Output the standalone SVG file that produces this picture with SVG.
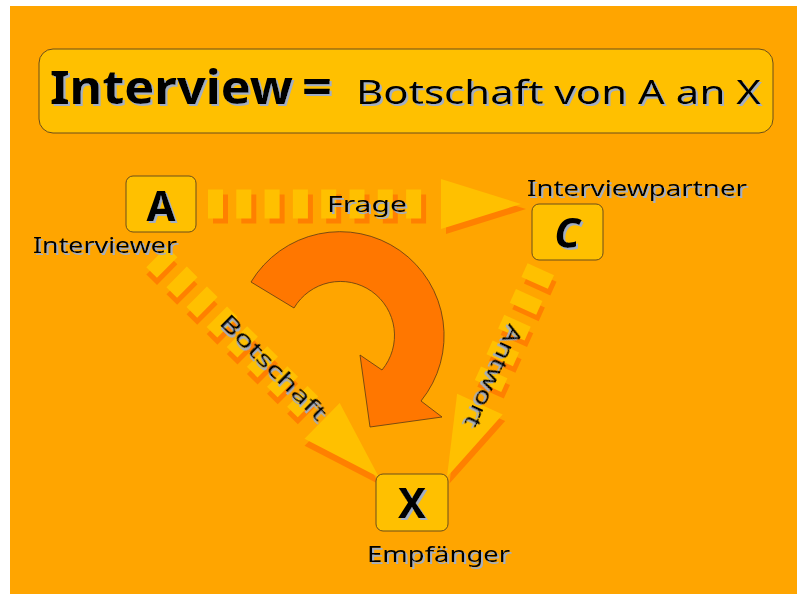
<svg xmlns="http://www.w3.org/2000/svg" xmlns:xlink="http://www.w3.org/1999/xlink" width="797" height="594" viewBox="0 0 797 594">
<style>
.box{fill:#FFC000;stroke:#6b4e1a;stroke-width:1}
.t{font-family:"Noto Sans","DejaVu Sans",sans-serif;fill:#000;filter:url(#ts)}
.lbl{font-size:22px}
.big{font-size:42px;font-weight:bold;text-anchor:middle}
.blk{fill:#FFC000}
.shd{fill:#FF8000}
</style>
<defs>
<filter id="ts" x="-10%" y="-10%" width="130%" height="130%">
<feDropShadow dx="2" dy="2" stdDeviation="0.4" flood-color="#a3aec2" flood-opacity="1"/>
</filter>
<g id="stripes8">
<rect x="0" y="-14.5" width="15" height="29"/>
<rect x="28.3" y="-14.5" width="15" height="29"/>
<rect x="56.6" y="-14.5" width="15" height="29"/>
<rect x="84.9" y="-14.5" width="15" height="29"/>
<rect x="113.2" y="-14.5" width="15" height="29"/>
<rect x="141.5" y="-14.5" width="15" height="29"/>
<rect x="169.8" y="-14.5" width="15" height="29"/>
<rect x="198.1" y="-14.5" width="15" height="29"/>
<polygon points="233,-25 313,0 233,25"/>
</g>
<g id="stripes5">
<rect x="0" y="-14.5" width="15" height="29"/>
<rect x="28.3" y="-14.5" width="15" height="29"/>
<rect x="56.6" y="-14.5" width="15" height="29"/>
<rect x="84.9" y="-14.5" width="15" height="29"/>
<rect x="113.2" y="-14.5" width="15" height="29"/>
<polygon points="148,-25 228,0 148,25"/>
</g>
</defs>
<rect x="0" y="0" width="797" height="594" fill="#ffffff"/>
<rect x="10" y="6" width="787" height="588" fill="#FFA500"/>

<g id="title">
<rect class="box" x="39" y="49" width="734" height="84" rx="14"/>
<text class="t" x="50" y="104" font-size="46" font-weight="bold" textLength="243" lengthAdjust="spacingAndGlyphs">Interview</text>
<text class="t" x="302" y="104" font-size="50" font-weight="bold" textLength="30" lengthAdjust="spacingAndGlyphs">=</text>
<text class="t" x="356" y="104" font-size="33" textLength="405" lengthAdjust="spacingAndGlyphs">Botschaft von A an X</text>
</g>

<g id="connectors">
<g id="arrow-frage" transform="translate(208,204)">
<use xlink:href="#stripes8" class="shd" transform="translate(5,5)"/>
<use xlink:href="#stripes8" class="blk"/>
</g>
<g id="arrow-botschaft" transform="translate(156.5,257) rotate(44.7)">
<use xlink:href="#stripes8" class="shd" transform="translate(5,5)"/>
<use xlink:href="#stripes8" class="blk"/>
</g>
<g id="arrow-antwort" transform="translate(540.8,269.2) rotate(114.3)">
<use xlink:href="#stripes5" class="shd" transform="translate(5,-5)"/>
<use xlink:href="#stripes5" class="blk"/>
</g>
<text class="t lbl" x="327" y="212" textLength="80" lengthAdjust="spacingAndGlyphs">Frage</text>
<text class="t lbl" transform="translate(273,368) rotate(44.7)" x="0" y="7" text-anchor="middle" textLength="140" lengthAdjust="spacingAndGlyphs">Botschaft</text>
<text class="t lbl" transform="translate(493,376) rotate(114.3)" x="0" y="7" text-anchor="middle" textLength="110" lengthAdjust="spacingAndGlyphs">Antwort</text>
</g>

<g id="cycle">
<path d="M251,282 A104,104 0 1 1 421,401 L442,417 L370,427 L360,355 L382,370 A54,54 0 1 0 294,308 Z" fill="#FF7700" stroke="#5a3a14" stroke-width="0.8"/>
</g>

<g id="node-A">
<rect class="box" x="126" y="176" width="70" height="56" rx="7"/>
<text class="t big" x="161" y="221">A</text>
<text class="t lbl" x="33" y="253" textLength="144" lengthAdjust="spacingAndGlyphs">Interviewer</text>
</g>

<g id="node-C">
<rect class="box" x="532" y="204" width="71" height="56" rx="7"/>
<text class="t big" x="567" y="248" font-style="italic">C</text>
<text class="t lbl" x="527" y="196" textLength="220" lengthAdjust="spacingAndGlyphs">Interviewpartner</text>
</g>

<g id="node-X">
<rect class="box" x="376" y="474" width="72" height="57" rx="7"/>
<text class="t big" x="412" y="518">X</text>
<text class="t lbl" x="367" y="562" textLength="143" lengthAdjust="spacingAndGlyphs">Empfänger</text>
</g>
</svg>
